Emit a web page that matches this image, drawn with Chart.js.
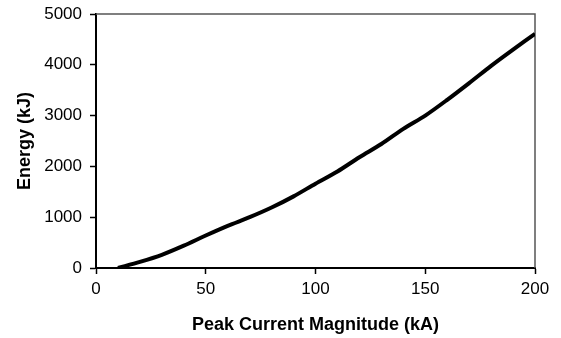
<!DOCTYPE html>
<html lang="en">
<head>
<meta charset="UTF-8">
<title>Energy vs Peak Current</title>
<script src="https://cdn.jsdelivr.net/npm/chart.js"></script>
<style>
  body { margin: 0; background: #fff; }
  #wrap { width: 561px; height: 338px; }
</style>
</head>
<body>
<div id="wrap"><canvas id="energyChart" width="561" height="338"></canvas></div>
<script>
// values
const peakCurrent = [10, 20, 30, 40, 50, 60, 70, 80, 90, 100, 110, 120, 130, 140, 150, 160, 170, 180, 190, 200];
const energy = [0, 120, 260, 440, 640, 830, 1000, 1190, 1410, 1660, 1900, 2180, 2440, 2740, 3000, 3310, 3640, 3980, 4300, 4610];
const xTicks = [0, 50, 100, 150, 200];
const yTicks = [0, 1000, 2000, 3000, 4000, 5000];

const FONT = '"Liberation Sans", Arial, sans-serif';

// grey top/right frame of the plot area
const frame = {
    id: 'frame',
    beforeDatasetsDraw(chart) {
        const a = chart.chartArea, ctx = chart.ctx;
        ctx.save();
        ctx.strokeStyle = '#555';
        ctx.lineWidth = 1.5;
        ctx.beginPath();
        ctx.moveTo(a.left, a.top);
        ctx.lineTo(a.right, a.top);
        ctx.lineTo(a.right, a.bottom);
        ctx.stroke();
        ctx.restore();
    }
};

const ctx = document.getElementById('energyChart').getContext('2d');
const chart = new Chart(ctx, {
    type: 'line',
    data: {
        datasets: [{
            data: peakCurrent.map((x, i) => ({ x: x, y: energy[i] })),
            borderColor: '#000',
            borderWidth: 4,
            pointRadius: 0,
            fill: false,
            tension: 0.3
        }]
    },
    options: {
        responsive: false,
        animation: false,
        layout: { padding: { left: 0, top: 14, right: 26, bottom: 0 } },
        plugins: { legend: { display: false }, tooltip: { enabled: false } },
        scales: {
            x: {
                type: 'linear',
                min: xTicks[0],
                max: xTicks[xTicks.length - 1],
                afterBuildTicks: s => { s.ticks = xTicks.map(v => ({ value: v })); },
                afterFit: s => { s.height = 70; s.paddingLeft = 0; s.paddingRight = 0; },
                grid: { drawOnChartArea: false, tickLength: 6, tickColor: '#000', tickWidth: 1.5 },
                border: { color: '#000', width: 2 },
                ticks: { color: '#000', padding: 5, maxRotation: 0, callback: v => String(v), font: { family: FONT, size: 17 } },
                title: {
                    display: true,
                    text: 'Peak Current Magnitude (kA)',
                    color: '#000',
                    padding: { top: 0, bottom: 2 },
                    font: { family: FONT, size: 18, weight: 'bold' }
                }
            },
            y: {
                min: yTicks[0],
                max: yTicks[yTicks.length - 1],
                afterBuildTicks: s => { s.ticks = yTicks.map(v => ({ value: v })); },
                afterFit: s => { s.width = 96; s.paddingTop = 0; s.paddingBottom = 0; },
                grid: { drawOnChartArea: false, tickLength: 6, tickColor: '#000', tickWidth: 1.5 },
                border: { color: '#000', width: 2 },
                ticks: { color: '#000', padding: 8, callback: v => String(v), font: { family: FONT, size: 17 } },
                title: {
                    display: true,
                    text: 'Energy (kJ)',
                    color: '#000',
                    padding: { top: 14, bottom: 0 },
                    font: { family: FONT, size: 18, weight: 'bold' }
                }
            }
        }
    },
    plugins: [frame]
});
</script>
</body>
</html>
